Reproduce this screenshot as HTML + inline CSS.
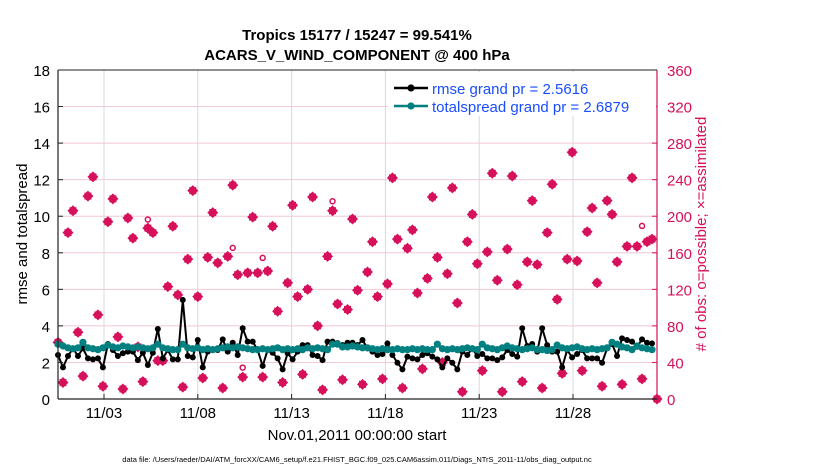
<!DOCTYPE html>
<html><head><meta charset="utf-8"><style>
body{margin:0;background:#fff;}
svg{display:block;font-family:"Liberation Sans",sans-serif;}
</style></head><body>
<svg id="chart" width="830" height="470" viewBox="0 0 830 470" xmlns="http://www.w3.org/2000/svg">
<text x="357" y="40" text-anchor="middle" font-size="15" font-weight="bold">Tropics 15177 / 15247 = 99.541%</text>
<text x="357" y="60" text-anchor="middle" font-size="15" font-weight="bold">ACARS_V_WIND_COMPONENT @ 400 hPa</text>
<g id="grid"></g>
<g id="marks"></g>
<g id="axes"></g>
<text transform="translate(27,234) rotate(-90)" text-anchor="middle" font-size="15">rmse and totalspread</text>
<text transform="translate(706,234) rotate(-90)" text-anchor="middle" font-size="15" fill="#d6105a">#  of obs: o=possible; ×=assimilated</text>
<text x="357" y="440" text-anchor="middle" font-size="15">Nov.01,2011 00:00:00 start</text>
<text x="357" y="462" text-anchor="middle" font-size="7.5">data file: /Users/raeder/DAI/ATM_forcXX/CAM6_setup/f.e21.FHIST_BGC.f09_025.CAM6assim.011/Diags_NTrS_2011-11/obs_diag_output.nc</text>
<g id="legend"></g>
</svg>
<script>
const rmse=[2.41,1.73,2.35,2.77,2.35,2.77,2.22,2.17,2.22,1.73,3.01,2.68,2.35,2.50,2.59,2.59,2.13,2.53,1.86,2.53,3.83,2.22,2.68,2.17,2.17,5.42,2.35,2.28,3.23,1.73,2.59,2.68,2.68,3.26,2.59,3.08,2.41,3.87,3.14,3.14,2.68,1.81,2.68,2.53,2.22,1.62,2.50,2.17,2.59,2.95,2.95,2.41,2.35,2.13,3.14,3.14,3.06,2.95,3.08,3.08,2.95,3.23,
2.77,2.59,2.41,2.46,3.04,2.41,1.98,1.62,2.32,2.22,2.17,2.41,2.50,2.32,2.17,1.73,2.22,1.98,1.62,2.59,2.41,2.77,2.35,2.46,2.22,2.22,2.13,2.28,2.68,2.46,2.32,3.87,2.90,3.01,2.59,3.87,2.95,2.59,2.59,1.73,2.68,2.28,2.46,2.68,2.22,2.22,2.22,1.98,2.77,3.01,2.35,3.32,3.23,3.14,2.86,3.26,3.08,3.04];
const spread=[3.0,2.9,2.8,2.75,2.8,3.1,2.8,2.75,2.7,2.8,2.95,2.85,2.8,2.9,2.85,2.8,2.85,2.8,2.75,2.8,
3.0,2.8,2.75,2.7,2.7,3.0,2.8,2.75,2.8,2.7,2.75,2.7,2.75,2.8,2.85,2.8,2.85,2.8,2.75,2.7,
2.7,2.75,2.7,2.75,2.8,2.7,2.75,2.7,2.75,2.7,2.8,2.75,2.8,2.75,2.7,3.0,3.0,2.85,2.85,2.9,
2.85,2.8,2.8,2.75,2.7,2.75,2.7,2.7,2.75,2.7,2.7,2.75,2.7,2.75,2.7,2.7,3.0,2.75,2.7,2.75,
2.7,2.75,2.8,2.75,2.7,3.0,2.8,2.75,2.7,2.8,2.9,2.8,2.75,2.7,2.75,2.8,2.7,2.7,2.65,2.7,
2.95,2.8,2.75,2.8,2.85,2.75,2.7,2.75,2.7,2.75,2.8,3.1,3.0,2.85,2.8,2.7,2.9,2.8,2.75,2.7];
const obsCount=[62,18,182,206,73,25,222,243,92,14,194,219,68,11,198,176,57,19,187,182,42,42,123,189,114,13,153,228,112,23,155,204,149,12,156,234,136,24,138,199,138,24,140,189,96,18,127,212,112,27,120,221,80,10,156,206,104,21,98,197,119,16,139,172,112,22,126,242,175,12,165,185,116,33,132,221,155,40,137,231,105,8,172,202,148,31,161,247,130,8,164,244,125,19,150,217,147,12,182,235,109,28,153,270,151,31,183,209,127,14,217,202,150,16,167,242,167,22,172,175,0];
const possibleIdx=[18,35,41,55,37,117];
const possibleCount=[192,161,150,212,30,185];
const xTickLabels=["11/03","11/08","11/13","11/18","11/23","11/28"];
const xTickDays=[2,7,12,17,22,27];
const yLeftTicks=[0,2,4,6,8,10,12,14,16,18];
const yRightTicks=[0,40,80,120,160,200,240,280,320,360];

const L=58,R=657,T=70,B=399;
const NS='http://www.w3.org/2000/svg';
const yL=v=>B-(v/18)*(B-T);
const yR=v=>B-(v/360)*(B-T);
const xDay=d=>104+(d-2)*18.76;
const xIdx=i=>58+i*(594/119);
const xObs=i=>58+i*((657-58)/(obsCount.length-1));
function el(tag,attrs,parent){const e=document.createElementNS(NS,tag);for(const k in attrs)e.setAttribute(k,attrs[k]);parent.appendChild(e);return e;}
const grid=document.getElementById('grid'),marks=document.getElementById('marks'),axes=document.getElementById('axes');

yLeftTicks.forEach((v,i)=>{
 const g=el('line',{x1:L,x2:R,y1:yL(v),y2:yL(v),stroke:'#f0c8d6','stroke-width':1},grid);
 
 
 const t=el('text',{x:L-8,y:yL(v)+6,'text-anchor':'end','font-size':15},axes);t.textContent=v;
 
 
 el('line',{x1:L,x2:L+5,y1:yL(v),y2:yL(v),stroke:'#222'},axes);
});
yRightTicks.forEach(v=>{
 const t=el('text',{x:R+10,y:yR(v)+6,'text-anchor':'start','font-size':15,fill:'#d6105a'},axes);t.textContent=v;
 
 
 el('line',{x1:R-5,x2:R,y1:yR(v),y2:yR(v),stroke:'#d6105a'},axes);
});
xTickDays.forEach((d,i)=>{
 const g=el('line',{x1:xDay(d),x2:xDay(d),y1:T,y2:B,stroke:'#d8d8d8'},grid);
 
 
 el('line',{x1:xDay(d),x2:xDay(d),y1:B-5,y2:B,stroke:'#222'},axes);
 const t=el('text',{x:xDay(d),y:B+19,'text-anchor':'middle','font-size':15},axes);t.textContent=xTickLabels[i];
 
 
});
const ax1=el('line',{x1:L,x2:L,y1:T,y2:B,stroke:'#222','stroke-width':1.2},axes);


const ax2=el('line',{x1:R,x2:R,y1:T,y2:B,stroke:'#d6105a','stroke-width':1.2},axes);


const ax3=el('line',{x1:L,x2:R,y1:B,y2:B,stroke:'#222','stroke-width':1.2},axes);


el('line',{x1:L,x2:R,y1:T,y2:T,stroke:'#222','stroke-width':1},axes);

obsCount.forEach((c,i)=>{
 const x=xObs(i),y=yR(c);
 const g=el('g',{},marks);
 
 
 el('path',{d:`M${x-5.5},${y}L${x},${y-5.5}L${x+5.5},${y}L${x},${y+5.5}Z`,fill:'#d6105a'},g);
 el('rect',{x:x-3.5,y:y-3.5,width:7,height:7,fill:'#d6105a'},g);
});
possibleIdx.forEach((idx,i)=>{
 const c=el('circle',{cx:xObs(idx),cy:yR(possibleCount[i])-4,r:2.5,fill:'none',stroke:'#d6105a','stroke-width':1.5},marks);
 
 
});
function series(vals,color,r,w,name){
 const p=el('polyline',{points:vals.map((v,i)=>xIdx(i)+','+yL(v)).join(' '),fill:'none',stroke:color,'stroke-width':w},marks);
 
 
 vals.forEach((v,i)=>{
  const c=el('circle',{cx:xIdx(i),cy:yL(v),r:r,fill:color},marks);
  
  
 });
}
series(rmse,'#000',3,2,'rmse');
series(spread,'#008080',3.6,2.5,'totalspread');

const lg=document.getElementById('legend');
el('rect',{x:388,y:72,width:268,height:44,fill:'#fff',stroke:'none'},lg);
[['rmse grand pr = 2.5616','#000',88],['totalspread grand pr = 2.6879','#008080',106]].forEach(([txt,col,y])=>{
 el('line',{x1:394,x2:428,y1:y,y2:y,stroke:col,'stroke-width':2.5},lg);
 el('circle',{cx:411,cy:y,r:3.6,fill:col},lg);
 const t=el('text',{x:432,y:y+6,'font-size':15,fill:'#1a4dff'},lg);t.textContent=txt;
 
 
});
</script>
</body></html>
